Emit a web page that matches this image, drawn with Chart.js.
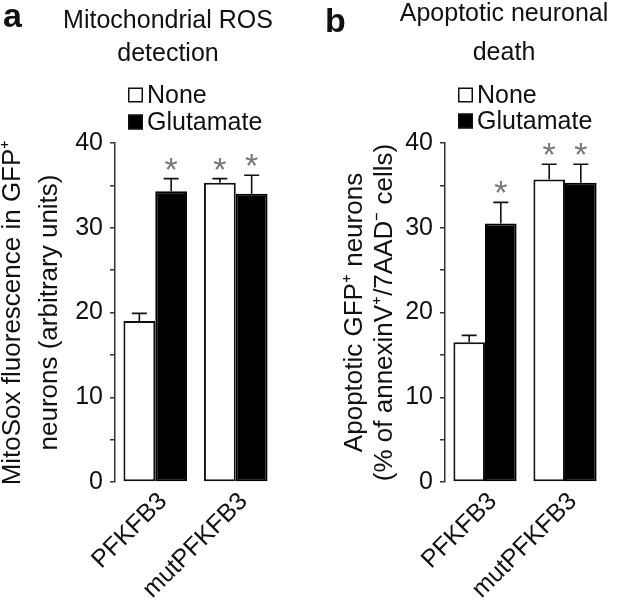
<!DOCTYPE html>
<html><head><meta charset="utf-8">
<script src="https://cdn.jsdelivr.net/npm/chart.js@4/dist/chart.umd.min.js"></script>
<style>
html,body{margin:0;padding:0;background:#fff;}
#wrap{position:relative;width:619px;height:607px;overflow:hidden;}
canvas{position:absolute;top:0;}
#ca{left:0;} #cb{left:310px;}
</style></head><body>
<div id="wrap"><canvas id="ca" width="310" height="607"></canvas><canvas id="cb" width="309" height="607"></canvas></div>
<script>
// ---- data ----
const categories = ['PFKFB3', 'mutPFKFB3'];
const seriesNames = ['None', 'Glutamate'];
const yTickLabels = [0, 10, 20, 30, 40];

const rosNone = [19.0, 35.3];
const rosNoneErr = [0.9, 0.5];
const rosNoneSig = [false, true];
const rosGlut = [34.3, 34.0];
const rosGlutErr = [1.5, 2.2];
const rosGlutSig = [true, true];

const deathNone = [16.5, 35.7];
const deathNoneErr = [0.8, 1.8];
const deathNoneSig = [false, true];
const deathGlut = [30.5, 35.3];
const deathGlutErr = [2.5, 2.2];
const deathGlutSig = [true, true];

const titleA = ['Mitochondrial ROS', 'detection'];
const titleB = ['Apoptotic neuronal', 'death'];
const yTitleA = ['MitoSox fluorescence in GFP\u207A', 'neurons (arbitrary units)'];
const yTitleB = ['Apoptotic GFP\u207A neurons', '(% of annexinV\u207A/7AAD\u207B cells)'];

// ---- rendering ----
const FONT = '"Liberation Sans", Arial, Helvetica, sans-serif';
Chart.defaults.font.family = FONT;
Chart.defaults.color = '#111';

const errPlugin = {
  id: 'errbars',
  afterDatasetsDraw(chart) {
    const ctx = chart.ctx, y = chart.scales.y;
    chart.data.datasets.forEach((ds, di) => {
      const meta = chart.getDatasetMeta(di);
      meta.data.forEach((bar, i) => {
        const v = ds.data[i], e = ds.errors[i];
        const yTop = y.getPixelForValue(v + e);
        ctx.save();
        ctx.strokeStyle = '#111';
        ctx.lineWidth = 1.6;
        ctx.beginPath();
        ctx.moveTo(bar.x, bar.y);
        ctx.lineTo(bar.x, yTop);
        ctx.moveTo(bar.x - 7.5, yTop);
        ctx.lineTo(bar.x + 7.5, yTop);
        ctx.stroke();
        if (ds.sig[i]) {
          ctx.font = '34px ' + FONT;
          ctx.fillStyle = '#777';
          ctx.textAlign = 'center';
          ctx.textBaseline = 'alphabetic';
          const m = ctx.measureText('*');
          const cy = yTop - 15;
          ctx.fillText('*', bar.x, cy + (m.actualBoundingBoxAscent - m.actualBoundingBoxDescent) / 2);
        }
        ctx.restore();
      });
    });
  }
};

const decoPlugin = {
  id: 'deco',
  afterDraw(chart, args, o) {
    const ctx = chart.ctx;
    ctx.save();
    ctx.fillStyle = '#111';
    ctx.textBaseline = 'alphabetic';
    ctx.textAlign = 'left';
    ctx.font = 'bold 34px ' + FONT;
    ctx.fillText(o.letter, o.letterX, o.letterY);
    ctx.font = '25px ' + FONT;
    ctx.textAlign = 'center';
    o.title.forEach((t, i) => ctx.fillText(t, o.titleX, o.titleY[i]));
    // legend
    ctx.textAlign = 'left';
    ctx.textBaseline = 'middle';
    chart.data.datasets.forEach((ds, i) => {
      const cy = o.legendY[i];
      ctx.fillStyle = ds.backgroundColor;
      ctx.fillRect(o.legendX, cy - 7.5, 15, 15);
      ctx.strokeStyle = '#111';
      ctx.lineWidth = 1.5;
      ctx.strokeRect(o.legendX + 0.75, cy - 6.75, 13.5, 13.5);
      ctx.fillStyle = '#111';
      ctx.fillText(ds.label, o.legendX + 19, cy + 1);
    });
    ctx.restore();
  }
};

function makeChart(id, none, noneErr, noneSig, glut, glutErr, glutSig, yTitle, yWidth, padRight, titlePadTop, titleLH, deco) {
  return new Chart(document.getElementById(id), {
    type: 'bar',
    data: {
      labels: categories,
      datasets: [
        { label: seriesNames[0], data: none, errors: noneErr, sig: noneSig, backgroundColor: '#ffffff', borderColor: '#111', borderWidth: 2, borderSkipped: false },
        { label: seriesNames[1], data: glut, errors: glutErr, sig: glutSig, backgroundColor: '#000000', borderColor: '#000', borderWidth: 2, borderSkipped: false }
      ]
    },
    options: {
      responsive: false,
      animation: false,
      devicePixelRatio: 1,
      categoryPercentage: 0.79,
      barPercentage: 1.0,
      layout: { padding: { top: 143, right: padRight, bottom: 0, left: 0 } },
      plugins: { legend: { display: false }, tooltip: { enabled: false }, title: { display: false }, deco: deco },
      scales: {
        x: {
          offset: true,
          grid: { display: false, drawTicks: false },
          border: { display: false },
          ticks: { maxRotation: 45, minRotation: 45, font: { size: 25 }, color: '#111', padding: 5, labelOffset: 8 },
          afterFit: s => { s.height = 125; }
        },
        y: {
          min: 0, max: 40,
          ticks: { stepSize: 5, font: { size: 25 }, color: '#111', padding: 7,
                   callback: v => yTickLabels.includes(v) ? String(v) : '' },
          grid: { drawOnChartArea: false, drawTicks: true, tickLength: 5, color: '#333', lineWidth: 1.5 },
          border: { display: true, color: '#333', width: 1.5 },
          title: { display: true, text: yTitle, color: '#111', font: { size: 26, lineHeight: titleLH }, padding: { top: titlePadTop, bottom: 0 } },
          afterFit: s => { s.width = yWidth; }
        }
      }
    },
    plugins: [errPlugin, decoPlugin]
  });
}

makeChart('ca', rosNone, rosNoneErr, rosNoneSig, rosGlut, rosGlutErr, rosGlutSig, yTitleA, 115, 34, -6, 37 / 26,
  { letter: 'a', letterX: 3, letterY: 27, title: titleA, titleX: 168, titleY: [28, 61], legendX: 128, legendY: [95, 122] });
makeChart('cb', deathNone, deathNoneErr, deathNoneSig, deathGlut, deathGlutErr, deathGlutSig, yTitleB, 135, 14, 30, 30 / 26,
  { letter: 'b', letterX: 15, letterY: 32, title: titleB, titleX: 194, titleY: [21, 60], legendX: 148, legendY: [95, 121] });
</script>
</body></html>
